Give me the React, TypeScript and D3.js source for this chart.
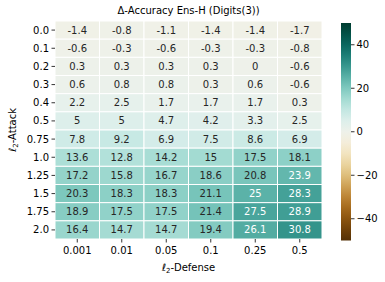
import React from 'react'
import * as d3 from 'd3'

const attacks = ['0.0', '0.1', '0.2', '0.3', '0.4', '0.5', '0.75', '1.0', '1.25', '1.5', '1.75', '2.0']
const defenses = ['0.001', '0.01', '0.05', '0.1', '0.25', '0.5']
const values = [
    [-1.4, -0.8, -1.1, -1.4, -1.4, -1.7],
    [-0.6, -0.3, -0.6, -0.3, -0.3, -0.8],
    [0.3, 0.3, 0.3, 0.3, 0, -0.6],
    [0.6, 0.8, 0.8, 0.3, 0.6, -0.6],
    [2.2, 2.5, 1.7, 1.7, 1.7, 0.3],
    [5, 5, 4.7, 4.2, 3.3, 2.5],
    [7.8, 9.2, 6.9, 7.5, 8.6, 6.9],
    [13.6, 12.8, 14.2, 15, 17.5, 18.1],
    [17.2, 15.8, 16.7, 18.6, 20.8, 23.9],
    [20.3, 18.3, 18.3, 21.1, 25, 28.3],
    [18.9, 17.5, 17.5, 21.4, 27.5, 28.9],
    [16.4, 14.7, 14.7, 19.4, 26.1, 30.8],
]
const cbTicks = [40, 20, 0, -20, -40]

const font = 'DejaVu Sans, sans-serif'
const left = 55, right = 322, top = 21, bottom = 239

const color = (v: number) => d3.interpolateBrBG((v + 50) / 100)

function lum(c: string) {
    const rgb = d3.rgb(c)
    const f = (x: number) => {
        x = x / 255
        return x <= 0.03928 ? x / 12.92 : Math.pow((x + 0.055) / 1.055, 2.4)
    }
    return 0.2126 * f(rgb.r) + 0.7152 * f(rgb.g) + 0.0722 * f(rgb.b)
}

const Ell = ({ text }: { text: string }) => (
    <>
        <tspan fontStyle="italic">ℓ</tspan>
        <tspan fontSize={7} dy={2}>2</tspan>
        <tspan dy={-2}>{text}</tspan>
    </>
)

export default function App() {
    const x = d3.scaleBand().domain(defenses).range([left, right])
    const y = d3.scaleBand().domain(attacks).range([top, bottom])

    const cbX = 341, cbW = 10
    const cbY = d3.scaleLinear().domain([-50, 50]).range([240.5, 23])
    const stops = d3.range(0, 1.001, 0.05)

    return (
        <svg width={385} height={282} style={{ position: 'absolute', left: 0, top: 0 }} fontFamily={font}>
            <rect width={385} height={282} fill="#fff" />
            <text x={(left + right) / 2} y={14} textAnchor="middle" fontSize={10} fill="#000">
                Δ-Accuracy Ens-H (Digits(3))
            </text>
            {values.map((row, i) => row.map((v, j) => {
                const c = color(v)
                return (
                    <g key={i + '-' + j}>
                        <rect x={x(defenses[j])} y={y(attacks[i])} width={x.bandwidth()} height={y.bandwidth()}
                            fill={c} stroke="#fff" strokeWidth={1} />
                        <text x={x(defenses[j])! + x.bandwidth() / 2} y={y(attacks[i])! + y.bandwidth() / 2}
                            dy="0.35em" textAnchor="middle" fontSize={10}
                            fill={lum(c) > 0.408 ? '#262626' : '#fff'}>{String(v)}</text>
                    </g>
                )
            }))}
            {attacks.map(a => (
                <g key={a}>
                    <line x1={left - 3.5} x2={left} y1={y(a)! + y.bandwidth() / 2} y2={y(a)! + y.bandwidth() / 2} stroke="#000" strokeWidth={0.8} />
                    <text x={left - 6} y={y(a)! + y.bandwidth() / 2} dy="0.35em" textAnchor="end" fontSize={10}>{a}</text>
                </g>
            ))}
            {defenses.map(d => (
                <g key={d}>
                    <line x1={x(d)! + x.bandwidth() / 2} x2={x(d)! + x.bandwidth() / 2} y1={bottom} y2={bottom + 3.5} stroke="#000" strokeWidth={0.8} />
                    <text x={x(d)! + x.bandwidth() / 2} y={bottom + 15} textAnchor="middle" fontSize={10}>{d}</text>
                </g>
            ))}
            <text x={(left + right) / 2} y={271} textAnchor="middle" fontSize={10}><Ell text="-Defense" /></text>
            <text transform={`translate(16,${(top + bottom) / 2}) rotate(-90)`} textAnchor="middle" fontSize={10}><Ell text="-Attack" /></text>

            <defs>
                <linearGradient id="cb" x1="0" x2="0" y1="1" y2="0">
                    {stops.map(t => <stop key={t} offset={t} stopColor={d3.interpolateBrBG(t)} />)}
                </linearGradient>
            </defs>
            <rect x={cbX} y={cbY(50)} width={cbW} height={cbY(-50) - cbY(50)} fill="url(#cb)" />
            {cbTicks.map(t => (
                <g key={t}>
                    <line x1={cbX + cbW} x2={cbX + cbW + 3.5} y1={cbY(t)} y2={cbY(t)} stroke="#000" strokeWidth={0.8} />
                    <text x={cbX + cbW + 5.5} y={cbY(t)} dy="0.35em" fontSize={10}>{String(t).replace('-', '\u2212')}</text>
                </g>
            ))}
        </svg>
    )
}
